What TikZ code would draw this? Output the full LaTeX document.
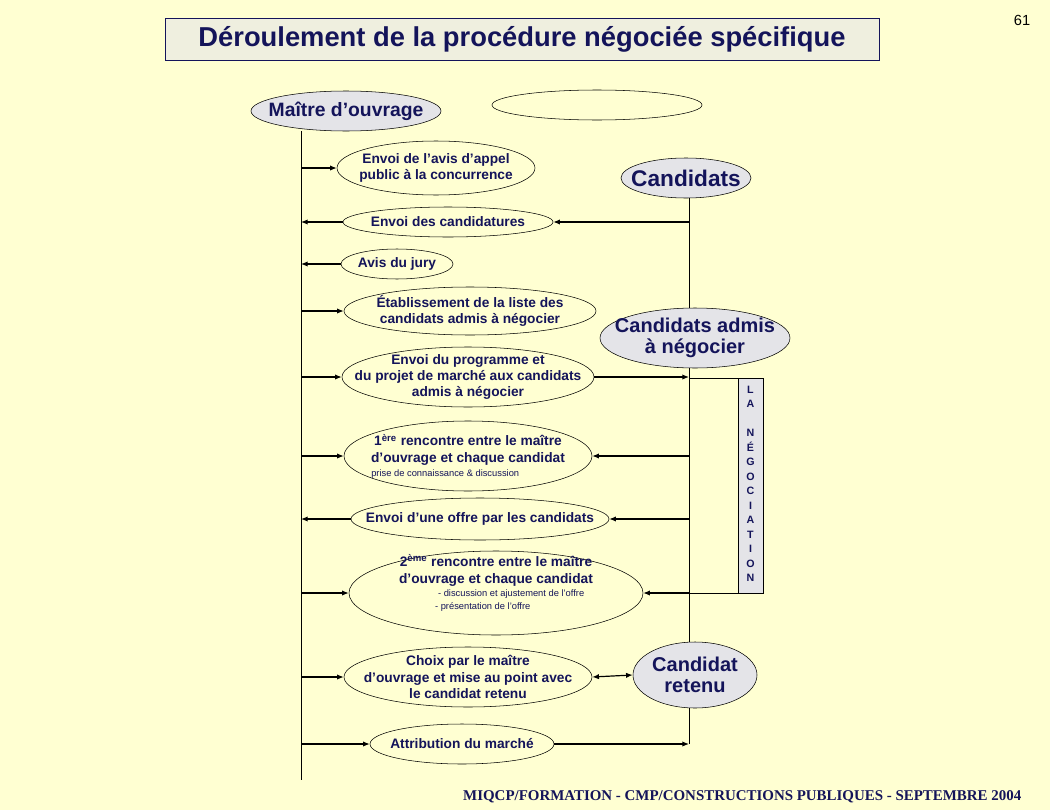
\documentclass[tikz,border=0pt]{standalone}
\usepackage{fontspec}
\setmainfont{Liberation Sans}
\newfontfamily\footfont{Liberation Serif}
\usetikzlibrary{shapes.geometric,arrows.meta}
\definecolor{bg}{HTML}{FFFFD2}
\definecolor{navy}{HTML}{14145A}
\definecolor{actor}{HTML}{E4E4E8}
\newcommand\subfnt{\fontsize{7}{8}\selectfont\mdseries}
\tikzset{
  ev/.style={ellipse,draw=black,thin,inner sep=-60pt,align=center,text=navy,font=\bfseries\fontsize{10.3}{12.3}\selectfont},
  act/.style={ev,fill=actor,font=\bfseries\fontsize{15}{16}\selectfont},
  arr/.style={-{Latex[length=5pt,width=4pt]},line width=0.9pt},
  dbl/.style={{Latex[length=5pt,width=4pt]}-{Latex[length=5pt,width=4pt]},line width=0.9pt},
  life/.style={thin}
}
\begin{document}
\begin{tikzpicture}[x=0.75pt,y=-0.75pt]
\fill[bg] (0,0) rectangle (1050,810);
\useasboundingbox (0,0) rectangle (1050,810);
\node[draw=navy,fill=actor!60!bg,minimum width=714*0.75pt,minimum height=42*0.75pt,text=navy,font=\bfseries\fontsize{20.5}{22}\selectfont] (title) at (522,39) {Déroulement de la procédure négociée spécifique};
\node[text=black,font=\fontsize{11}{12}\selectfont] (num) at (1022,20) {61};
\node[act,font=\bfseries\fontsize{14.5}{16}\selectfont,minimum width=190*0.75pt,minimum height=40*0.75pt] (mo) at (346,111) {Maître d’ouvrage};
\node[ev,minimum width=210*0.75pt,minimum height=30*0.75pt] (empty) at (597,105) {};
\node[act,minimum width=130*0.75pt,minimum height=40*0.75pt,font=\bfseries\fontsize{17}{18}\selectfont] (cand) at (686,178) {Candidats};
\node[act,minimum width=190*0.75pt,minimum height=60*0.75pt] (adm) at (695,338) {Candidats admis\\à négocier};
\node[act,minimum width=124*0.75pt,minimum height=66*0.75pt] (ret) at (695,675) {Candidat\\retenu};
% lifelines
\coordinate (L0) at (301,131); \coordinate (L1) at (301,780);
\draw[life] (L0) -- (L1);
\draw[life] (cand.south) ++(3,0) coordinate (R0) -- (R0 |- adm.north);
\coordinate (R1) at (689,368); \coordinate (R2) at (689,642);
\draw[life] (R1) -- (R2);
\coordinate (R3) at (689,708); \coordinate (Rend) at (689,744);
\draw[life] (R3) -- (Rend);
% negotiation box
\draw[fill=actor] (738,378) rectangle (763,593);
\draw[life] (689,378) -- (738,378);
\draw[life] (689,593) -- (738,593);
\node[text=navy,font=\bfseries\fontsize{8}{10.9}\selectfont,align=center,anchor=north] (neg) at (750.5,381) {L\\A\\~\\N\\É\\G\\O\\C\\I\\A\\T\\I\\O\\N};
% events
\node[ev,minimum width=198*0.75pt,minimum height=54*0.75pt] (e1) at (436,168) {Envoi de l’avis d’appel\\public à la concurrence};
\node[ev,minimum width=210*0.75pt,minimum height=30*0.75pt] (e2) at (448,222) {Envoi des candidatures};
\node[ev,minimum width=112*0.75pt,minimum height=30*0.75pt] (e3) at (397,264) {Avis du jury};
\node[ev,minimum width=252*0.75pt,minimum height=48*0.75pt] (e4) at (470,311) {Établissement de la liste des\\candidats admis à négocier};
\node[ev,minimum width=252*0.75pt,minimum height=60*0.75pt] (e5) at (468,377) {Envoi du programme et\\du projet de marché aux candidats\\admis à négocier};
\node[ev,minimum width=248*0.75pt,minimum height=70*0.75pt] (e6) at (468,456) {1\textsuperscript{ère} rencontre entre le maître\\d’ouvrage et chaque candidat\\[-2pt]{\subfnt\hspace*{-1.2cm}prise de connaissance \& discussion}};
\node[ev,minimum width=258*0.75pt,minimum height=42*0.75pt] (e7) at (480,519) {Envoi d’une offre par les candidats};
\node[ev,minimum width=294*0.75pt,minimum height=84*0.75pt] (e8) at (496,593) {2\textsuperscript{ème} rencontre entre le maître\\d’ouvrage et chaque candidat\\[-2pt]{\subfnt\hspace*{0.8cm}- discussion et ajustement de l’offre}\\[-3pt]{\subfnt\hspace*{-0.7cm}- présentation de l’offre}\\[4pt]};
\node[ev,minimum width=248*0.75pt,minimum height=60*0.75pt] (e9) at (468,677) {Choix par le maître\\d’ouvrage et mise au point avec\\le candidat retenu};
\node[ev,minimum width=184*0.75pt,minimum height=40*0.75pt] (e10) at (462,744) {Attribution du marché};
% connectors
\coordinate (a1) at (301,168); \draw[arr] (a1) -- (e1.west);
\coordinate (a2) at (301,222); \coordinate (b2) at (689,222);
\draw[arr] (e2.west) -- (a2); \draw[arr] (b2) -- (e2.east);
\coordinate (a3) at (301,264); \draw[arr] (e3.west) -- (a3);
\coordinate (a4) at (301,311); \draw[arr] (a4) -- (e4.west);
\coordinate (a5) at (301,377); \coordinate (b5) at (689,377);
\draw[arr] (a5) -- (e5.west); \draw[arr] (e5.east) -- (b5);
\coordinate (a6) at (301,456); \coordinate (b6) at (689,456);
\draw[arr] (a6) -- (e6.west); \draw[arr] (b6) -- (e6.east);
\coordinate (a7) at (301,519); \coordinate (b7) at (689,519);
\draw[arr] (e7.west) -- (a7); \draw[arr] (b7) -- (e7.east);
\coordinate (a8) at (301,593); \coordinate (b8) at (689,593);
\draw[arr] (a8) -- (e8.west); \draw[arr] (b8) -- (e8.east);
\coordinate (a9) at (301,677);
\draw[arr] (a9) -- (e9.west); \draw[dbl] (e9.east) -- (ret.west);
\coordinate (a10) at (301,744);
\draw[arr] (a10) -- (e10.west); \draw[arr] (e10.east) -- (Rend);
\node[anchor=east,text=navy,font=\footfont\bfseries\fontsize{11.2}{12}\selectfont] (foot) at (1026,797) {MIQCP/FORMATION - CMP/CONSTRUCTIONS PUBLIQUES - SEPTEMBRE 2004};
\end{tikzpicture}
\end{document}
